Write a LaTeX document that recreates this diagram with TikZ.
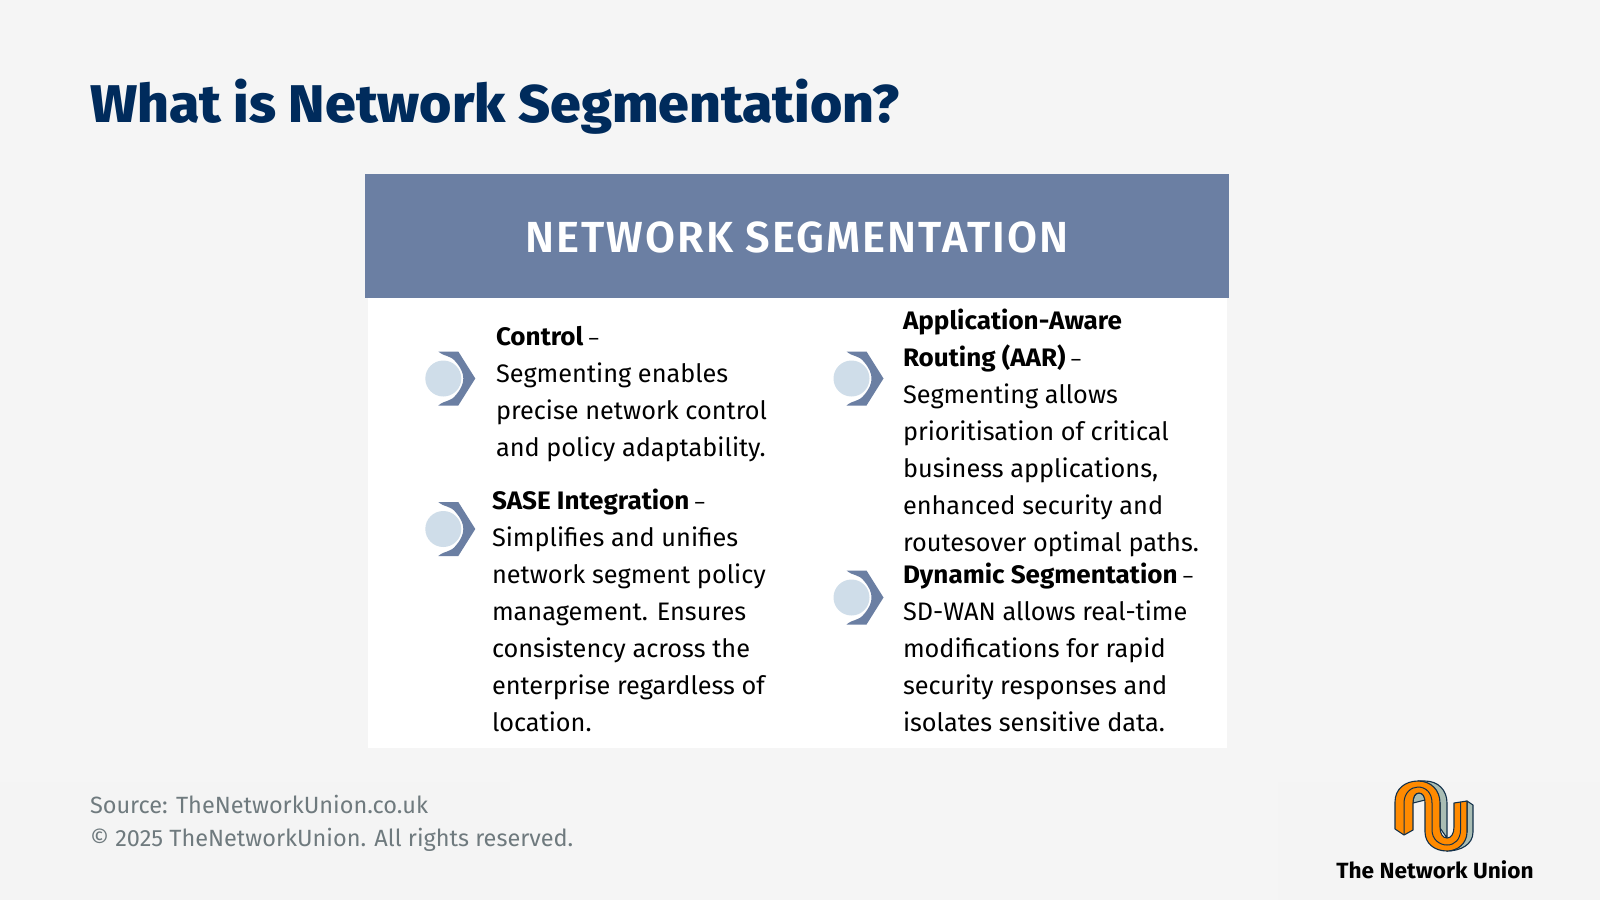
\documentclass[tikz,border=0pt]{standalone}
\usepackage{fontspec}
\setmainfont{Fira Sans}
\newfontfamily\semif{Fira Sans}[UprightFont=* Bold,FakeStretch=1.03]
\newfontfamily\titlef{Fira Sans}[UprightFont=* ExtraBold,FakeStretch=1.044]
\newfontfamily\headf{Fira Sans}[UprightFont=* SemiBold,LetterSpace=4.6]
\definecolor{bgc}{HTML}{F5F5F5}
\definecolor{footc}{HTML}{F4F4F4}
\definecolor{navy}{HTML}{002B5C}
\definecolor{slate}{HTML}{6B7FA3}
\definecolor{pale}{HTML}{CFDDE9}
\definecolor{greyt}{HTML}{6F7A7E}
\definecolor{logod}{HTML}{12304A}
\definecolor{logoo}{HTML}{FF8A00}
\definecolor{logog}{HTML}{A9BDB4}
\newcount\lnum
\newcommand{\tl}[4][]{\global\advance\lnum by 1 \node[bodyline,#1] (line\the\lnum) at (#2,#3) {#4};}
\newcommand{\dsh}{\normalfont\fontsize{20}{24}\selectfont\ –}
\newcommand{\chev}[3]{%
 \begin{scope}[shift={(#1,#2)}]
  \fill[slate,line join=round] (-5,-27) -- (15,-27) -- (32,0) -- (15,27) -- (-5,27)
    .. controls (2,21) and (7,24) .. (13,16) .. controls (18,10) and (20,5) .. (20,0)
    .. controls (20,-5) and (18,-10) .. (13,-16) .. controls (7,-24) and (2,-21) .. cycle;
  \node[circle,fill=pale,minimum size=36pt,inner sep=0] (#3) at (0,0) {};
 \end{scope}}
\begin{document}
\begin{tikzpicture}[x=1pt,y=-1pt,
 bodyline/.style={anchor=base west,inner sep=0,outer sep=0,font=\fontsize{25.3}{30}\selectfont,text=black},
 panel/.style={inner sep=0,outer sep=0},
 logoband/.style={line width=1.1pt,draw=logod,line join=round}]
\useasboundingbox (0,0) rectangle (1600,900);
\fill[bgc] (0,0) rectangle (1600,900);
\fill[footc] (0,782) rectangle (510,900);
\fill[footc] (1278,782) rectangle (1600,900);
\node[panel,anchor=base west,text=navy,font=\fontsize{53}{60}\titlef\selectfont] (title) at (90,122) {What is Network Segmentation?};
\fill[white] (367.5,298) rectangle (1226.5,748);
\node[panel,fill=slate,minimum width=864pt,minimum height=124pt,anchor=north west] (head) at (365,174) {};
\node[panel,text=white,font=\fontsize{43.5}{50}\headf\selectfont] (headt) at (797,237) {NETWORK SEGMENTATION};
\chev{443.3}{378.5}{c1}
\chev{443.3}{529}{c2}
\chev{851.5}{378.5}{c3}
\chev{851.5}{597.5}{c4}
\tl{496}{345}{\semif Control\dsh}
\tl{496}{382}{Segmenting enables}
\tl{496}{419}{precise network control}
\tl{496}{456}{and policy adaptability.}
\tl{492}{509}{\semif SASE Integration\dsh}
\tl{492}{546}{Simplifies and unifies}
\tl{492}{583}{network segment policy}
\tl{492}{620}{management. Ensures}
\tl{492}{657}{consistency across the}
\tl{492}{694}{enterprise regardless of}
\tl{492}{731}{location.}
\tl{903}{329}{\semif Application-Aware}
\tl{903}{366}{\semif Routing (AAR)\dsh}
\tl{903}{403}{Segmenting allows}
\tl{903}{440}{prioritisation of critical}
\tl{903}{477}{business applications,}
\tl{903}{514}{enhanced security and}
\tl{903}{551}{routesover optimal paths.}
\tl{903}{583}{\semif Dynamic Segmentation\dsh}
\tl{903}{620}{SD-WAN allows real-time}
\tl{903}{657}{modifications for rapid}
\tl{903}{694}{security responses and}
\tl{903}{731}{isolates sensitive data.}
\node[panel,anchor=base west,text=greyt,font=\fontsize{23.5}{28}\selectfont] (src) at (90,813) {Source: TheNetworkUnion.co.uk};
\node[panel,anchor=base west,text=greyt,font=\fontsize{23.5}{28}\selectfont] (copy) at (90,846) {© 2025 TheNetworkUnion. All rights reserved.};
% logo
\filldraw[logoband,fill=logog] (1418,781) -- (1425,781) .. controls (1438,781) and (1447,790) .. (1447,803) -- (1447,838) -- (1440,828) -- (1440,803) -- cycle;
\filldraw[logoband,fill=logog] (1467,801) -- (1473,805) -- (1473,832) .. controls (1473,845) and (1460,851) .. (1447,851) -- (1467,832) -- cycle;
\filldraw[logoband,fill=logog] (1413,803) .. controls (1413,797) and (1415,793) .. (1419,793) .. controls (1423,793) and (1425,797) .. (1425,800) -- cycle;
\filldraw[logoband,fill=logoo] (1395,829) -- (1395,802) .. controls (1395,789) and (1405,781) .. (1418,781) .. controls (1431,781) and (1440,790) .. (1440,803) -- (1440,827) .. controls (1440,834) and (1443,838) .. (1447,838) .. controls (1451,838) and (1454,834) .. (1454,827) -- (1454,803) -- (1467,801) -- (1467,832) .. controls (1467,843) and (1458,851) .. (1447,851) .. controls (1434,851) and (1425,843) .. (1425,832) -- (1425,803) .. controls (1425,797) and (1423,793) .. (1419,793) .. controls (1415,793) and (1413,797) .. (1413,803) -- (1413,830) -- (1404,835) -- cycle;
\draw[logod,line width=1pt] (1404,835) -- (1404,803) .. controls (1404,793) and (1411,787) .. (1418,787) .. controls (1426,787) and (1432,793) .. (1432,803) -- (1432,830) .. controls (1432,839) and (1439,845) .. (1447,845) .. controls (1455,845) and (1460.5,839) .. (1460.5,830) -- (1460.5,802);
\node[panel,text=black,font=\fontsize{22}{28}\semif\selectfont] (logot) at (1435,870) {The Network Union};
\end{tikzpicture}
\end{document}
